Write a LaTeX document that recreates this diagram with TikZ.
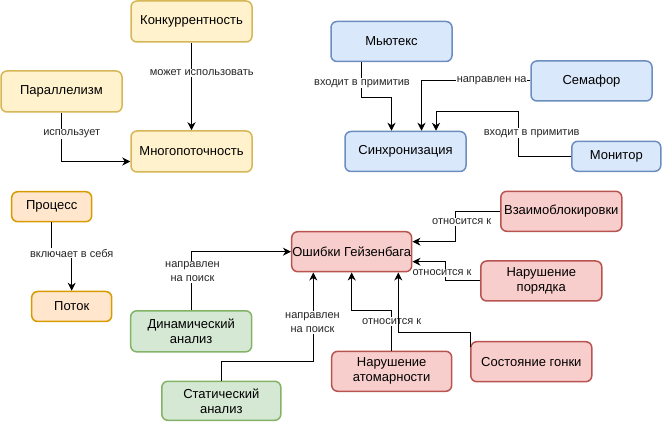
\documentclass[tikz,border=0pt]{standalone}
\usepackage{fontspec}
\setmainfont{Liberation Sans}
\usetikzlibrary{arrows.meta,calc}
\definecolor{yfill}{HTML}{FFF2CC}\definecolor{ydraw}{HTML}{D6B656}
\definecolor{ofill}{HTML}{FFE6CC}\definecolor{odraw}{HTML}{D79B00}
\definecolor{bfill}{HTML}{DAE8FC}\definecolor{bdraw}{HTML}{6C8EBF}
\definecolor{gfill}{HTML}{D5E8D4}\definecolor{gdraw}{HTML}{82B366}
\definecolor{rfill}{HTML}{F8CECC}\definecolor{rdraw}{HTML}{B85450}
\tikzset{
  box/.style={draw, line width=1.5pt, rounded corners=6pt, inner sep=0pt, align=center,
    font=\fontsize{13}{15}\selectfont, text=black},
  ybox/.style={box, fill=yfill, draw=ydraw},
  obox/.style={box, fill=ofill, draw=odraw},
  bbox/.style={box, fill=bfill, draw=bdraw},
  gbox/.style={box, fill=gfill, draw=gdraw},
  rbox/.style={box, fill=rfill, draw=rdraw},
  edge/.style={draw=black, line width=1pt, -{Stealth[length=8pt,width=8pt,inset=2.5pt]}},
  lbl/.style={fill=white, inner xsep=0.5pt, inner ysep=1pt, align=center,
    font=\fontsize{11}{14}\selectfont, text=black!85},
}
\begin{document}
\begin{tikzpicture}[x=1pt,y=-1pt]
\useasboundingbox (0,0) rectangle (662,422);
% nodes
\node[ybox, minimum width=121pt, minimum height=41pt] (konk) at (191.5,21.5) {Конкуррентность};
\node[ybox, minimum width=121pt, minimum height=41pt] (par) at (61.5,91.5) {Параллелизм};
\node[ybox, minimum width=121pt, minimum height=41pt] (mnog) at (191.5,151.5) {Многопоточность};
\node[bbox, minimum width=121pt, minimum height=40pt] (mut) at (391.5,41.5) {Мьютекс};
\node[bbox, minimum width=121pt, minimum height=40pt] (sem) at (591.5,81) {Семафор};
\node[bbox, minimum width=121pt, minimum height=40pt] (sync) at (405.5,151.5) {Синхронизация};
\node[bbox, minimum width=89pt, minimum height=30pt] (mon) at (616.3,156.3) {Монитор};
\node[obox, minimum width=80pt, minimum height=30pt] (proc) at (51.7,206.7) {Процесс};
\node[obox, minimum width=80pt, minimum height=30pt] (potok) at (71.7,306.5) {Поток};
\node[rbox, minimum width=120pt, minimum height=40pt] (err) at (351.7,251.7) {Ошибки Гейзенбага};
\node[gbox, minimum width=121pt, minimum height=41pt] (dyn) at (191.2,331.3) {Динамический\\анализ};
\node[gbox, minimum width=119pt, minimum height=39pt] (stat) at (221.3,400.8) {Статический\\анализ};
\node[rbox, minimum width=121pt, minimum height=40pt] (dead) at (561.3,211.3) {Взаимоблокировки};
\node[rbox, minimum width=121pt, minimum height=40pt] (order) at (541.3,281) {Нарушение\\порядка};
\node[rbox, minimum width=120pt, minimum height=40pt] (atom) at (391.7,371.3) {Нарушение\\атомарности};
\node[rbox, minimum width=121pt, minimum height=40pt] (race) at (531.3,361.7) {Состояние гонки};
% edges
\draw[edge] (konk.south) -- (mnog.north);
\draw[edge] (par.south) |- ($(mnog.west)+(0,10)$);
\draw[edge] ($(mut.south)+(-30,0)$) -- ($(mut.south)+(-30,35)$) -| ($(sync.north)+(-14,0)$);
\draw[edge] (sem.west) -| ($(sync.north)+(16,0)$);
\draw[edge] (mon.west) -- ++(-52.7,0) -- ++(0,-44.6) -| ($(sync.north)+(30.5,0)$);
\draw[edge] (proc.south) -- ++(0,31.6) -| (potok.north);
\draw[edge] (dyn.north) |- (err.west);
\draw[edge] (stat.north) -- ++(0,-19.3) -| ($(err.south)+(-38.4,0)$);
\draw[edge] (dead.west) -- ++(-44.6,0) |- ($(err.east)+(0,-10)$);
\draw[edge] (order.west) -- ++(-34.6,0) |- ($(err.east)+(0,10)$);
\draw[edge] (atom.north) -- ++(0,-39.6) -| (err.south);
% labels
\node[lbl] (l1) at (201.7,73) {может использовать};
\node[lbl] (l2) at (71.7,133.7) {использует};
\node[lbl] (l3) at (362,83.3) {входит в примитив};
\node[lbl] (l4) at (491.7,81) {направлен на};
\node[lbl] (l5) at (531.7,133.3) {входит в примитив};
\node[lbl] (l6) at (71.7,253.3) {включает в себя};
\node[lbl] (l7) at (192.5,272) {направлен\\на поиск};
\node[lbl] (l8) at (312.5,322.5) {направлен\\на поиск};
\node[lbl] (l9) at (461.7,221.7) {относится к};
\node[lbl] (l10) at (442,273) {относится к};
\node[lbl] (l11) at (391.7,321.5) {относится к};
% edge drawn over a label
\draw[edge] ($(race.north west)+(0.5,6)$) |- ($(err.south)+(46.6,60)$) -- ($(err.south)+(46.6,0)$);
\end{tikzpicture}
\end{document}
